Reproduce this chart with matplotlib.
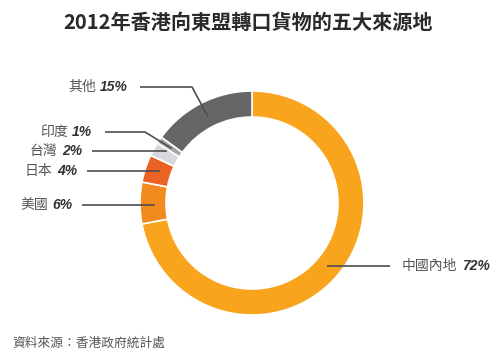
import numpy as np
import matplotlib
matplotlib.use("Agg")
import matplotlib.pyplot as plt

# --- data ---
labels = ["中國內地", "美國", "日本", "台灣", "印度", "其他"]
shares = [72, 6, 4, 2, 1, 15]
pct_labels = ["72%", "6%", "4%", "2%", "1%", "15%"]
colors = ["#F8A51D", "#F28A1E", "#EC6224", "#D6D8DC", "#A6A6A6", "#666666"]

title = "2012年香港向東盟轉口貨物的五大來源地"
source = "資料來源：香港政府統計處"

CJK = ["Noto Sans CJK TC", "DejaVu Sans"]
plt.rcParams["font.family"] = CJK

W, H = 500, 358
fig = plt.figure(figsize=(W / 100, H / 100), dpi=100)
ax = fig.add_axes([0, 0, 1, 1])

# ring geometry (pixel units, y measured from bottom)
cx, cy = 252, H - 203
r_out = 112
ring_w = 26

wedges, _ = ax.pie(shares, colors=colors, startangle=90, counterclock=False,
                   center=(cx, cy), radius=r_out,
                   wedgeprops=dict(width=ring_w, edgecolor="white", linewidth=1.2))
ax.set_xlim(0, W)
ax.set_ylim(0, H)
ax.set_aspect("equal")
ax.axis("off")

# label layout: text left x, text y (from top), line start x, elbow x (None = straight)
label_pos = {
    "中國內地": (402, 266, 390, None),
    "美國": (20, 205, 82, None),
    "日本": (25, 171, 87, None),
    "台灣": (30, 151, 92, None),
    "印度": (40, 132, 105, 145),
    "其他": (68, 87, 140, 192),
}

r_anchor = r_out - ring_w / 2 - 2
for w, name, pct in zip(wedges, labels, pct_labels):
    ang = np.deg2rad((w.theta1 + w.theta2) / 2)
    ax_x = cx + r_anchor * np.cos(ang)
    ax_y = cy + r_anchor * np.sin(ang)
    tx, ty, lx, ex = label_pos[name]
    ty = H - ty
    if ex is None:
        xs, ys = [lx, ax_x], [ty, ty]
    else:
        xs, ys = [lx, ex, ax_x], [ty, ty, ax_y]
    ax.plot(xs, ys, color="#4d4d4d", lw=1.2, solid_capstyle="butt")
    t = ax.text(tx, ty, name, ha="left", va="center", fontsize=10,
                color="#555555", family=CJK)
    ax.annotate(pct, xy=(1, 0.5), xycoords=t, xytext=(3, 0),
                textcoords="offset points", ha="left", va="center",
                fontsize=10, fontweight="bold", fontstyle="italic",
                color="#333333", family=["Liberation Sans", "DejaVu Sans"])

fig.text(248 / W, 1 - 22 / H, title, ha="center", va="center",
         fontsize=14.5, fontweight="bold", color="#2a2a2a", family=CJK)
fig.text(12 / W, 1 - 343 / H, source, ha="left", va="center",
         fontsize=9.2, color="#555555", family=CJK)

fig.savefig("out.png", dpi=100)
